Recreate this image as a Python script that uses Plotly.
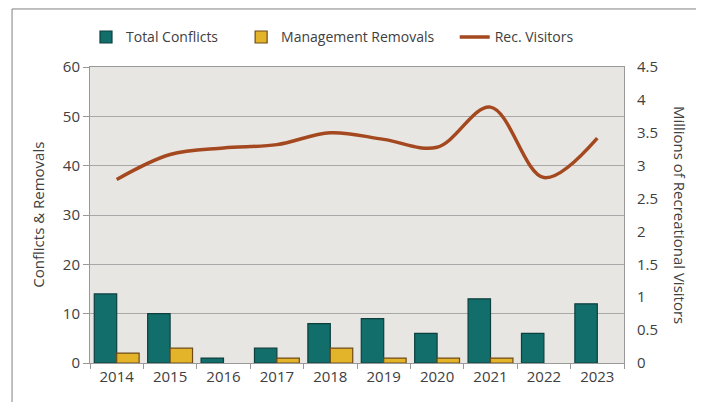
import plotly.graph_objects as go

years = ["2014", "2015", "2016", "2017", "2018", "2019", "2020", "2021", "2022", "2023"]
total_conflicts = [14, 10, 1, 3, 8, 9, 6, 13, 6, 12]
management_removals = [2, 3, 0, 1, 3, 1, 1, 1, 0, 0]
rec_visitors = [2.79, 3.17, 3.27, 3.32, 3.50, 3.40, 3.28, 3.89, 2.82, 3.42]

FONT = "Open Sans"
TXT = "#404040"

# zero-height bars are not drawn in the reference
removals_shown = [v if v > 0 else None for v in management_removals]

fig = go.Figure()
fig.add_trace(go.Bar(
    x=years, y=total_conflicts, name="Total Conflicts", legend="legend",
    marker=dict(color="#126e6a", line=dict(color="#0c3f3e", width=1.2)),
))
fig.add_trace(go.Bar(
    x=years, y=removals_shown, name="Management Removals", legend="legend2",
    marker=dict(color="#e3b42a", line=dict(color="#6e4a18", width=1.2)),
))
fig.add_trace(go.Scatter(
    x=years, y=rec_visitors, name="Rec. Visitors", yaxis="y2", legend="legend3",
    mode="lines", line=dict(color="#a4491f", width=3.5, shape="spline", smoothing=1.0),
))

def leg(x):
    return dict(orientation="h", x=x, y=1.10, xanchor="left", yanchor="middle",
                font=dict(size=14, color=TXT), bgcolor="rgba(0,0,0,0)", itemwidth=30)

# page has an 8px body margin; compensate so the plot sits where the reference has it
fig.update_layout(
    width=696, height=394,
    margin=dict(l=82, r=80, t=59, b=39, autoexpand=False),
    paper_bgcolor="white", plot_bgcolor="#e8e6e3",
    font=dict(family=FONT, size=15, color=TXT),
    barmode="group", bargap=0.16, bargroupgap=0,
    showlegend=True,
    legend=leg(-0.0075),
    legend2=leg(0.283),
    legend3=leg(0.683),
    xaxis=dict(type="category", tickson="boundaries", ticks="outside", ticklen=5,
               tickcolor="#999999", showline=True, linecolor="#999999", linewidth=1,
               mirror=True, showgrid=False, tickfont=dict(size=15, color=TXT)),
    yaxis=dict(range=[0, 60], dtick=10, ticks="outside", ticklen=6, tickcolor="#999999",
               showline=True, linecolor="#999999", linewidth=1, mirror=True,
               showgrid=True, gridcolor="#a8a8a8", gridwidth=1, zeroline=False,
               tickfont=dict(size=15, color=TXT)),
    yaxis2=dict(range=[0, 4.5], dtick=0.5, overlaying="y", side="right", showgrid=False,
                zeroline=False, showline=False, ticks="outside", ticklen=9,
                tickcolor="rgba(0,0,0,0)", tickfont=dict(size=15, color=TXT)),
    annotations=[
        dict(text="Conflicts & Removals", xref="paper", yref="paper", x=-0.098, y=0.5,
             textangle=-90, showarrow=False, font=dict(size=15, color=TXT),
             xanchor="center", yanchor="middle"),
        dict(text="Millions of Recreational Visitors", xref="paper", yref="paper",
             x=1.105, y=0.5, textangle=90, showarrow=False,
             font=dict(size=15, color=TXT), xanchor="center", yanchor="middle"),
    ],
    shapes=[
        dict(type="rect", xref="paper", yref="paper", x0=-0.146, x1=1.142, y0=-0.3, y1=1.196,
             line=dict(color="#808080", width=1), fillcolor="rgba(0,0,0,0)", layer="below"),
    ],
)

fig.write_html("out.html")
